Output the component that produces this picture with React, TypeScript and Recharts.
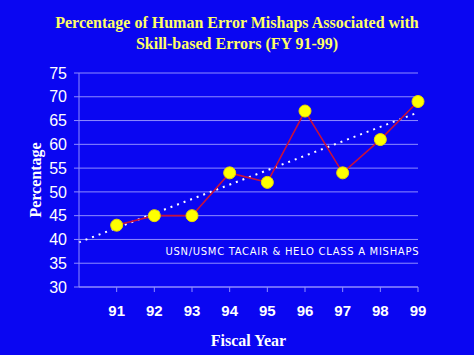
import React from 'react';
import { LineChart, Line, XAxis, YAxis, CartesianGrid, Label, ReferenceDot } from 'recharts';

const years = [91, 92, 93, 94, 95, 96, 97, 98, 99];
const percentages = [43, 45, 45, 54, 52, 67, 54, 61, 69];
const trendYears = [90, 99];
const trendValues = [39.4, 66.7];
const yTicks = [30, 35, 40, 45, 50, 55, 60, 65, 70, 75];

const data = years.map((y, i) => ({ year: y, pct: percentages[i] }));
const trend = trendYears.map((y, i) => ({ year: y, t: trendValues[i] }));

const BG = '#0a06f2';
const GRID = '#8f8cff';

export default function App() {
  return (
    <div style={{ position: 'absolute', left: 0, top: 0, width: 474, height: 355, background: BG, overflow: 'hidden' }}>
      <div
        style={{
          position: 'absolute',
          left: 0,
          top: 12,
          width: 474,
          textAlign: 'center',
          color: '#ffff66',
          fontFamily: '"Liberation Serif", serif',
          fontWeight: 'bold',
          fontSize: 16,
          lineHeight: '21px',
        }}
      >
        Percentage of Human Error Mishaps Associated with
        <br />
        Skill-based Errors (FY 91-99)
      </div>
      <LineChart
        width={474}
        height={355}
        margin={{ top: 73, right: 56, bottom: 0, left: 0 }}
        style={{ position: 'absolute', left: 0, top: 0 }}
      >
        <CartesianGrid horizontal vertical={false} stroke={GRID} strokeWidth={1} />
        <XAxis
          dataKey="year"
          type="number"
          domain={[90, 99]}
          ticks={years}
          allowDuplicatedCategory={false}
          height={68}
          stroke={GRID}
          tickSize={5}
          tickMargin={13}
          tick={{ fill: '#ffffff', fontFamily: '"Liberation Sans", Arial, sans-serif', fontWeight: 'bold', fontSize: 15 }}
        >
          <Label
            value="Fiscal Year"
            position="insideBottom"
            offset={9}
            style={{ fill: '#ffffff', fontFamily: '"Liberation Serif", serif', fontWeight: 'bold', fontSize: 16 }}
          />
        </XAxis>
        <YAxis
          type="number"
          domain={[30, 75]}
          ticks={yTicks}
          interval={0}
          width={79}
          stroke={GRID}
          tickSize={5}
          tickMargin={7}
          tick={{ fill: '#ffffff', fontFamily: '"Liberation Sans", Arial, sans-serif', fontSize: 16 }}
        >
          <Label
            value="Percentage"
            angle={-90}
            position="insideLeft"
            offset={35}
            style={{ textAnchor: 'middle', fill: '#ffffff', fontFamily: '"Liberation Serif", serif', fontWeight: 'bold', fontSize: 16 }}
          />
        </YAxis>
        <Line
          data={trend}
          dataKey="t"
          type="linear"
          stroke="#ffffff"
          strokeWidth={2}
          strokeDasharray="2 5"
          dot={false}
          isAnimationActive={false}
        />
        <Line
          data={data}
          dataKey="pct"
          type="linear"
          stroke="#c8103c"
          strokeWidth={1.6}
          dot={{ r: 6, fill: '#ffff00', stroke: '#e8d800', strokeWidth: 1 }}
          isAnimationActive={false}
        />
        <ReferenceDot
          x={95}
          y={37.5}
          r={0}
          fill="none"
          stroke="none"
          label={{
            value: 'USN/USMC TACAIR & HELO CLASS A MISHAPS',
            position: 'center',
            dx: 25,
            fill: '#ffffff',
            fontSize: 10,
            fontWeight: 500,
            fontFamily: '"DejaVu Sans", sans-serif',
            letterSpacing: 0.7,
          }}
        />
      </LineChart>
    </div>
  );
}
